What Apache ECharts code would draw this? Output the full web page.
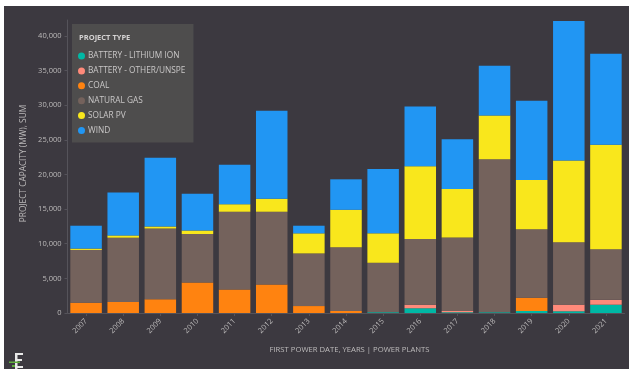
<!DOCTYPE html>
<html><head><meta charset="utf-8">
<style>html,body{margin:0;padding:0;background:#fff}#c{position:absolute;left:4px;top:6px;width:625px;height:363px}</style>
<script src="https://cdn.jsdelivr.net/npm/echarts@6/dist/echarts.min.js"></script>
</head><body><div id="c"></div>
<script>
const categories=['2007','2008','2009','2010','2011','2012','2013','2014','2015','2016','2017','2018','2019','2020','2021'];
const lithium=[0,0,0,0,0,0,0,0,120,700,100,120,300,250,1200];
const other=[0,0,0,0,0,0,0,0,0,500,200,0,0,950,700];
const coal=[1490,1600,2000,4400,3400,4100,1000,300,0,0,0,0,1900,0,0];
const gas=[7610,9270,10200,7000,11200,10500,7600,9200,7130,9500,10600,22080,9900,9000,7300];
const solar=[200,330,300,500,1100,1900,2900,5400,4250,10500,7000,6300,7100,11800,15100];
const wind=[3300,6200,9900,5300,5700,12700,1100,4400,9300,8600,7200,7200,11460,20160,13140];
const tickColor='#bdbbbb';
const names=['BATTERY - LITHIUM ION','BATTERY - OTHER/UNSPE','COAL','NATURAL GAS','SOLAR PV','WIND'];
const colors=['#00b8a5','#ff8a7a','#ff8310','#74625c','#f9e71c','#2196f3'];
const values=[lithium,other,coal,gas,solar,wind];
const chart=echarts.init(document.getElementById('c'),null,{renderer:'canvas'});
chart.setOption({
 animation:false,
 backgroundColor:'#3c3940',
 textStyle:{fontFamily:'Open Sans'},
 grid:{left:63.5,right:4.5,top:14,bottom:56,containLabel:false},
 legend:{
  left:68,top:18,orient:'vertical',itemWidth:7,itemHeight:7,itemGap:6.9,icon:'circle',
  padding:[28,8,8,6],backgroundColor:'#4e4d4d',
  textStyle:{color:'#c9c7c7',fontSize:8.3,padding:[0,0,0,-2],fontFamily:'Open Sans'},
  data:names
 },
 title:{text:'PROJECT TYPE',left:75,top:28,padding:0,textStyle:{color:'#d5d3d3',fontSize:7.5,fontWeight:'bold',fontFamily:'Open Sans'}},
 xAxis:{type:'category',data:categories,
  name:'FIRST POWER DATE, YEARS | POWER PLANTS',nameLocation:'middle',nameGap:33,
  nameTextStyle:{color:'#bdbbbb',fontSize:7.7,padding:[0,0,0,7]},
  axisLine:{lineStyle:{color:'#55535a'}},axisTick:{show:true,alignWithLabel:true,length:3,lineStyle:{color:'#55535a'}},
  axisLabel:{color:tickColor,fontSize:7.5,rotate:45,margin:7}},
 yAxis:{type:'value',min:0,max:42300,interval:5000,
  name:'PROJECT CAPACITY (MW), SUM',nameLocation:'middle',nameGap:35,
  nameTextStyle:{color:'#bdbbbb',fontSize:8.3,padding:[0,0,0,6]},
  axisLine:{show:true,lineStyle:{color:'#55535a'}},axisTick:{show:true,length:3,lineStyle:{color:'#55535a'}},
  splitLine:{show:false},
  axisLabel:{color:tickColor,fontSize:7.5,margin:6,showMaxLabel:false,formatter:v=>v.toLocaleString('en-US')}},
 series:names.map((n,i)=>({name:n,type:'bar',stack:'t',data:values[i],barWidth:31.5,itemStyle:{color:colors[i]}})),
 graphic:[
  {type:'rect',left:11,top:347,shape:{width:8,height:2},style:{fill:'#e8e8e8'}},
  {type:'rect',left:11,top:347,shape:{width:2.5,height:16},style:{fill:'#e8e8e8'}},
  {type:'rect',left:11,top:353,shape:{width:7,height:2},style:{fill:'#e8e8e8'}},
  {type:'rect',left:11,top:360,shape:{width:8,height:2},style:{fill:'#e8e8e8'}},
  {type:'rect',left:5,top:355.5,shape:{width:11,height:1.5},style:{fill:'#5fae3c'}},
  {type:'rect',left:8,top:359,shape:{width:3,height:2},style:{fill:'#5fae3c'}}
 ]
});
</script></body></html>
